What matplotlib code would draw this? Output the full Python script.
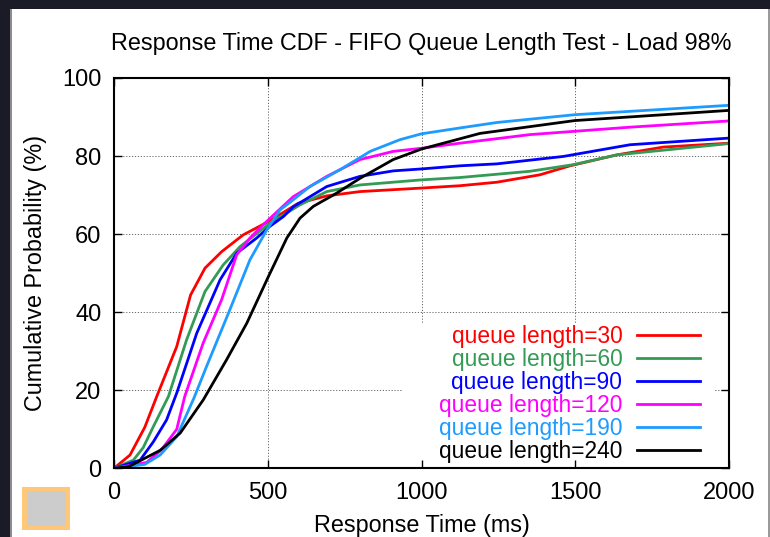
import matplotlib
matplotlib.use('Agg')
import matplotlib.pyplot as plt
from matplotlib.patches import Rectangle

plt.rcParams['font.family'] = ['Liberation Sans', 'DejaVu Sans']

title = "Response Time CDF - FIFO Queue Length Test - Load 98%"
xlabel = "Response Time (ms)"
ylabel = "Cumulative Probability (%)"
x_ticks = [0, 500, 1000, 1500, 2000]
y_ticks = [0, 20, 40, 60, 80, 100]

labels = ["queue length=30", "queue length=60", "queue length=90",
          "queue length=120", "queue length=190", "queue length=240"]
colors = ["#ff0000", "#339b55", "#0000ff", "#ff00ff", "#1e9bff", "#000000"]

ql30_x = [0, 52, 100, 139, 204, 249, 296, 350, 420, 502, 599, 692, 800, 1000, 1125, 1245, 1385, 1483, 1635, 1786, 2000]
ql30_y = [0, 3.4, 10.5, 18.4, 31.2, 44.4, 51.3, 55.5, 59.8, 63.2, 67.9, 69.8, 70.9, 71.8, 72.4, 73.3, 75.2, 77.5, 80.3, 82.3, 83.3]

ql60_x = [0, 63, 95, 128, 177, 236, 296, 355, 410, 507, 605, 692, 800, 1000, 1125, 1353, 1494, 1635, 2000]
ql60_y = [0, 2.1, 5.3, 10.7, 18.4, 32.9, 45.3, 52.1, 56.8, 62.8, 67.5, 70.9, 72.6, 73.9, 74.5, 76.1, 77.8, 80.3, 83.2]

ql90_x = [0, 85, 128, 171, 205, 269, 345, 399, 464, 507, 551, 583, 692, 800, 908, 1000, 1125, 1245, 1461, 1678, 2000]
ql90_y = [0, 2.1, 6.8, 12.4, 19.5, 34.6, 48.3, 55.1, 59.0, 62.0, 64.5, 67.0, 72.2, 74.8, 76.2, 76.7, 77.5, 78.0, 79.9, 82.9, 84.6]

ql120_x = [0, 106, 155, 204, 230, 290, 350, 399, 442, 485, 583, 692, 800, 908, 1000, 1125, 1353, 1678, 2000]
ql120_y = [0, 1.5, 4.8, 10.0, 18.4, 32.1, 43.2, 54.7, 59.0, 62.4, 69.6, 74.8, 79.1, 81.2, 82.0, 83.3, 85.5, 87.4, 89.0]

ql190_x = [0, 100, 150, 204, 260, 301, 372, 442, 497, 540, 583, 637, 735, 833, 930, 1000, 1125, 1245, 1499, 2000]
ql190_y = [0, 1.0, 3.4, 8.1, 18.0, 26.1, 39.7, 53.4, 61.1, 66.2, 68.8, 72.2, 76.5, 81.2, 84.2, 85.7, 87.2, 88.6, 90.6, 93.0]

ql240_x = [0, 47, 150, 215, 290, 366, 432, 502, 562, 605, 648, 724, 800, 908, 1000, 1190, 1499, 2000]
ql240_y = [0, 0.4, 4.6, 9.0, 17.5, 27.8, 37.2, 49.1, 59.0, 64.1, 67.1, 70.5, 74.3, 79.1, 81.8, 85.8, 89.1, 91.7]

series_x = [ql30_x, ql60_x, ql90_x, ql120_x, ql190_x, ql240_x]
series_y = [ql30_y, ql60_y, ql90_y, ql120_y, ql190_y, ql240_y]

W, H = 770, 537
fig = plt.figure(figsize=(W / 100, H / 100), dpi=100, facecolor='#1b1b27')

# slide background
fig.patches.append(Rectangle((12 / W, 0), (768 - 12) / W, (H - 9) / H, transform=fig.transFigure,
                             facecolor='white', edgecolor='none', zorder=-5))
fig.patches.append(Rectangle((10 / W, 0), 2 / W, (H - 9) / H, transform=fig.transFigure,
                             facecolor='#8c8c8c', edgecolor='none', zorder=-5))
fig.patches.append(Rectangle((768 / W, 0), 2 / W, (H - 9) / H, transform=fig.transFigure,
                             facecolor='#9a9a9a', edgecolor='none', zorder=-5))
fig.patches.append(Rectangle((22 / W, 1 - 530 / H), 48 / W, 43 / H, transform=fig.transFigure,
                             facecolor='#ffc878', edgecolor='none', zorder=-4))
fig.patches.append(Rectangle((27 / W, 1 - 526 / H), 39 / W, 35 / H, transform=fig.transFigure,
                             facecolor='#cccccc', edgecolor='none', zorder=-3))

ax = fig.add_axes([114 / W, 1 - 468.3 / H, 615 / W, 390.3 / H])
ax.set_facecolor('white')

for t in x_ticks[1:-1]:
    ax.axvline(t, color='#666666', lw=0.7, ls=(0, (1.2, 1.8)), zorder=0.5)
for t in y_ticks[1:-1]:
    ax.axhline(t, color='#666666', lw=0.7, ls=(0, (1.2, 1.8)), zorder=0.5)

# opaque legend area
ax.add_patch(Rectangle((0.47, 0), 0.507, 0.3726, transform=ax.transAxes,
                       facecolor='white', edgecolor='none', zorder=1))

for xs, ys, lab, c in zip(series_x, series_y, labels, colors):
    ax.plot(xs, ys, color=c, lw=2.0, label=lab, zorder=2, solid_joinstyle='round')

ax.set_xlim(0, 2000)
ax.set_ylim(0, 100)
ax.set_xticks(x_ticks)
ax.set_yticks(y_ticks)
ax.tick_params(direction='in', length=6, width=1, top=True, right=True, labelsize=17)
ax.tick_params(axis='x', pad=10)
ax.tick_params(axis='y', pad=9)
for s in ax.spines.values():
    s.set_linewidth(1.5)

ax.set_title(title, fontsize=16.8, pad=20)
ax.set_xlabel(xlabel, fontsize=16.8, labelpad=7)
ax.set_ylabel(ylabel, fontsize=16.8, labelpad=11)

leg = ax.legend(loc='lower right', bbox_to_anchor=(700 / W, 1 - 463 / H), bbox_transform=fig.transFigure,
                frameon=False, markerfirst=False, fontsize=16.4, handlelength=2.75, handletextpad=0.66,
                labelspacing=0.0, borderpad=0, borderaxespad=0, labelcolor='linecolor')
leg.set_zorder(3)

fig.savefig('out.png', dpi=100, facecolor=fig.get_facecolor())
